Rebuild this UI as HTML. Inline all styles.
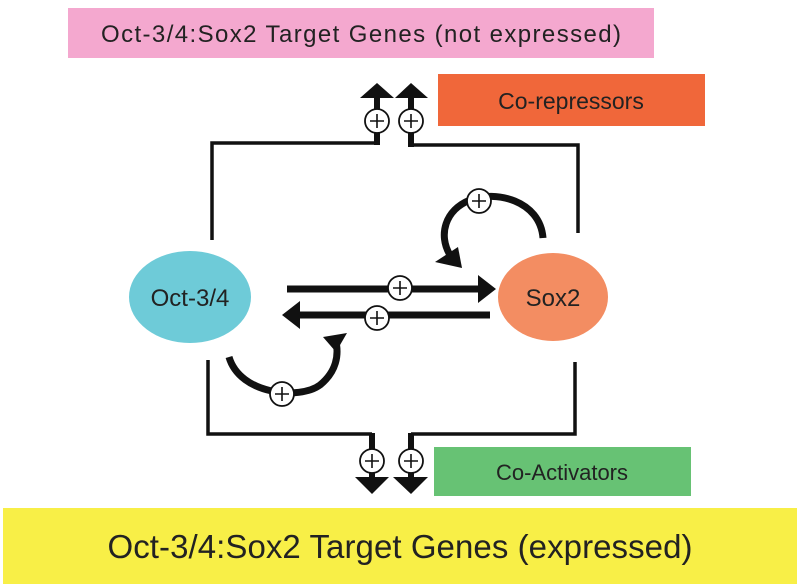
<!DOCTYPE html>
<html><head><style>
body{margin:0;background:#fff;}
svg{display:block;font-family:"Liberation Sans",sans-serif;}
</style></head><body>
<svg width="799" height="588" viewBox="0 0 799 588">
<rect x="68" y="8" width="586" height="50" fill="#f4a8cf"/>
<text x="361" y="42" font-size="24" text-anchor="middle" fill="#222" textLength="520">Oct-3/4:Sox2 Target Genes (not expressed)</text>
<rect x="438" y="74" width="267" height="52" fill="#f0673a"/>
<text x="571" y="109" font-size="23" text-anchor="middle" fill="#222">Co-repressors</text>
<rect x="434" y="447" width="257" height="49" fill="#67c274"/>
<text x="562" y="480" font-size="22" text-anchor="middle" fill="#222">Co-Activators</text>
<rect x="3" y="508" width="794" height="76" fill="#f8ef47"/>
<text x="400" y="558" font-size="33" text-anchor="middle" fill="#222" textLength="585">Oct-3/4:Sox2 Target Genes (expressed)</text>

<g stroke="#111" fill="none" stroke-width="3.5">
<polyline points="212,240 212,143 377,143"/>
<polyline points="411,145 578,145 578,233"/>
<polyline points="208,360 208,434 372,434"/>
<polyline points="411,434 575,434 575,362"/>
</g>
<g stroke="#111" stroke-width="6" fill="none">
<line x1="377" y1="145" x2="377" y2="97"/>
<line x1="411" y1="147" x2="411" y2="97"/>
<line x1="372" y1="433" x2="372" y2="478"/>
<line x1="411" y1="433" x2="411" y2="478"/>
</g>
<g fill="#111">
<polygon points="360,98 377,83 394,98"/>
<polygon points="395,98 411,83 428,98"/>
<polygon points="355,477 389,477 372,494"/>
<polygon points="393,477 428,477 411,494"/>
</g>

<ellipse cx="190" cy="297" rx="61" ry="46" fill="#6ecbd8"/>
<text x="190" y="306" font-size="24" text-anchor="middle" fill="#222">Oct-3/4</text>
<ellipse cx="553" cy="297" rx="55" ry="44" fill="#f38d62"/>
<text x="553" y="306" font-size="24" text-anchor="middle" fill="#222">Sox2</text>

<g stroke="#111" stroke-width="7" fill="none">
<line x1="287" y1="289" x2="480" y2="289"/>
<line x1="490" y1="315" x2="298" y2="315"/>
<path d="M543,238 C540,200 495,190 470,200 C445,210 438,235 450,255"/>
<path d="M229,357 C240,395 300,400 320,385 C336,372 340,355 335,338"/>
</g>
<g fill="#111">
<polygon points="478,275 496,289 478,303"/>
<polygon points="300,301 282,315 300,329"/>
<polygon points="435,262 458,247 462,268"/>
<polygon points="323,337 347,333 336,352"/>
</g>

<g stroke="#111" stroke-width="1.8" fill="#fff">
<circle cx="377" cy="121" r="12"/>
<circle cx="411" cy="121" r="12"/>
<circle cx="372" cy="461" r="12"/>
<circle cx="411" cy="461" r="12"/>
<circle cx="400" cy="288" r="12"/>
<circle cx="377" cy="318" r="12"/>
<circle cx="479" cy="201" r="12"/>
<circle cx="282" cy="394" r="12"/>
</g>
<g stroke="#111" stroke-width="1.6">
<path d="M370,121h14M377,114v14"/>
<path d="M404,121h14M411,114v14"/>
<path d="M365,461h14M372,454v14"/>
<path d="M404,461h14M411,454v14"/>
<path d="M393,288h14M400,281v14"/>
<path d="M370,318h14M377,311v14"/>
<path d="M472,201h14M479,194v14"/>
<path d="M275,394h14M282,387v14"/>
</g>
</svg>
</body></html>
